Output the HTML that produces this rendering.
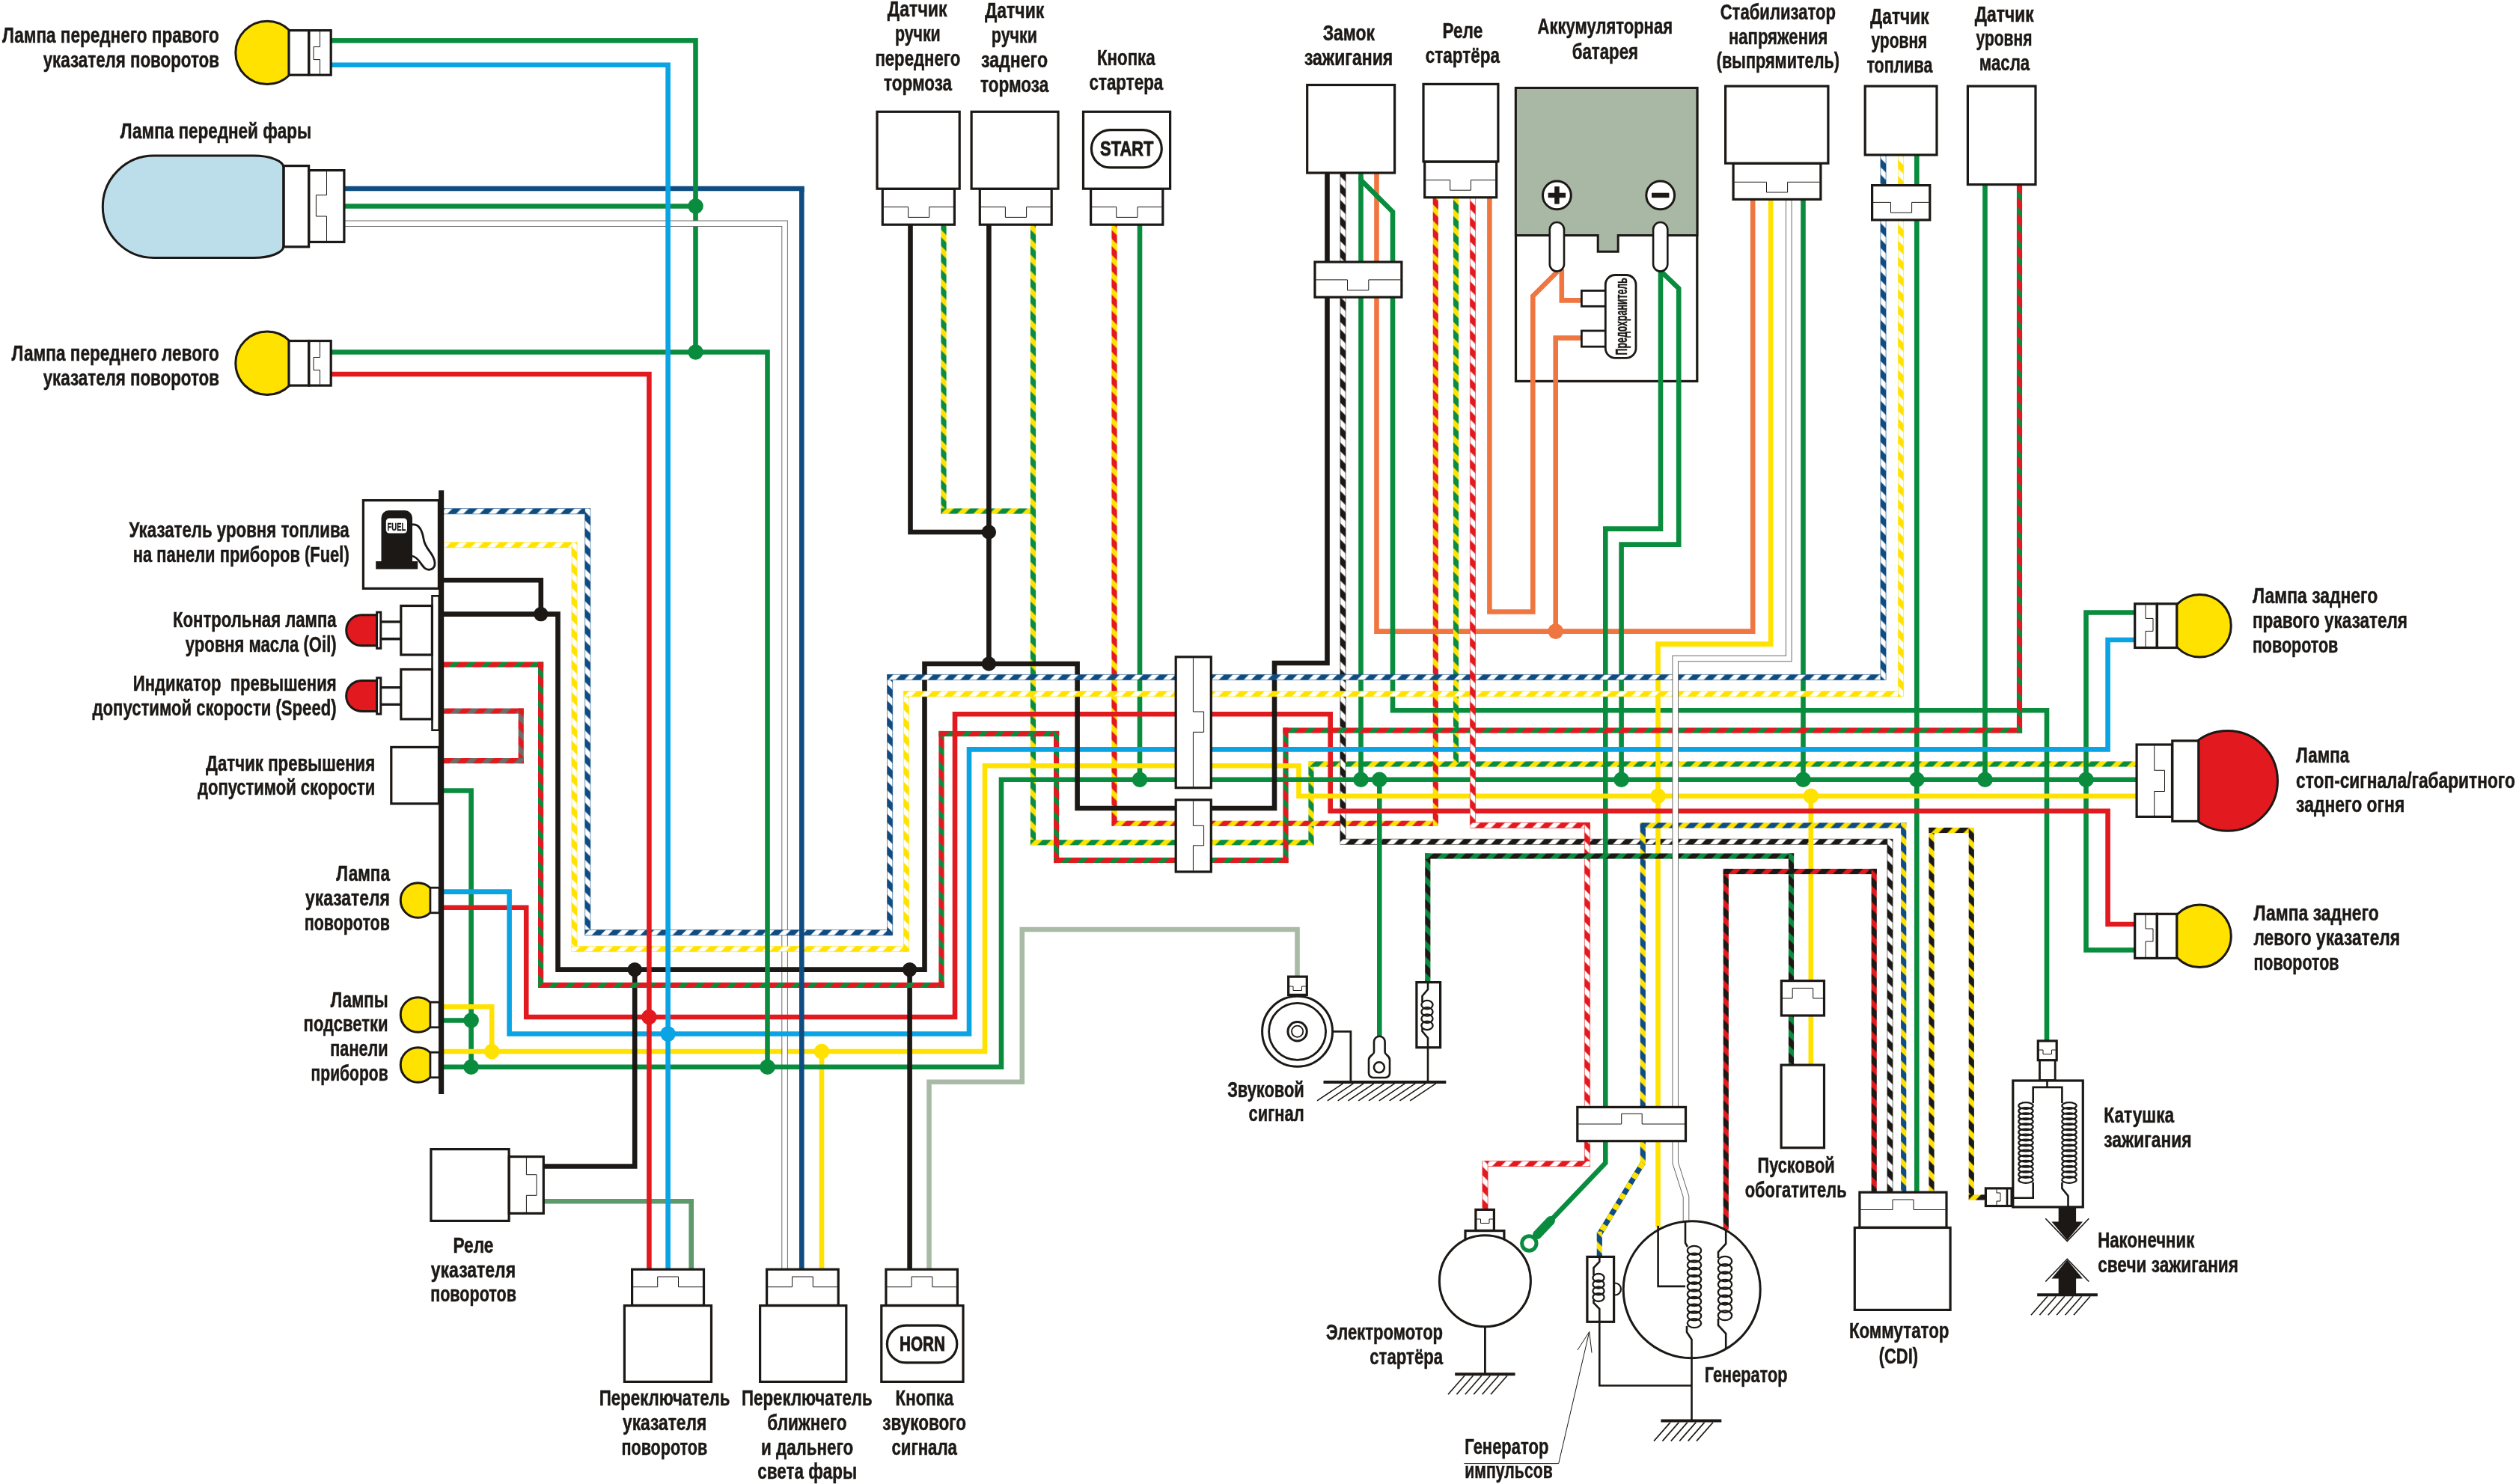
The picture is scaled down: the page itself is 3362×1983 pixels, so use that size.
<!DOCTYPE html>
<html><head><meta charset="utf-8"><title>Wiring diagram</title>
<style>html,body{margin:0;padding:0;background:#fff}svg{display:block;will-change:transform}text{font-family:"Liberation Sans",sans-serif;font-weight:bold}</style></head><body>
<svg width="3362" height="1983" viewBox="0 0 3362 1983">
<rect width="3362" height="1983" fill="#fff"/>
<defs><pattern id="p0" width="21.6" height="21.6" patternUnits="userSpaceOnUse"><rect width="21.6" height="21.6" fill="#0A8C3E"/><polygon points="21.6,0 11.7,0 21.6,9.9" fill="#FFE200"/><polygon points="0,0 0,9.9 11.7,21.6 21.6,21.6" fill="#FFE200"/></pattern><pattern id="p1" width="21.6" height="21.6" patternUnits="userSpaceOnUse"><rect width="21.6" height="21.6" fill="#0A8C3E"/><polygon points="0,0 9.9,0 0,9.9" fill="#FFE200"/><polygon points="21.6,0 21.6,9.9 9.9,21.6 0,21.6" fill="#FFE200"/></pattern><pattern id="p2" width="21.6" height="21.6" patternUnits="userSpaceOnUse"><rect width="21.6" height="21.6" fill="#E2191E"/><polygon points="21.6,0 11.7,0 21.6,9.9" fill="#FFE200"/><polygon points="0,0 0,9.9 11.7,21.6 21.6,21.6" fill="#FFE200"/></pattern><pattern id="p3" width="21.6" height="21.6" patternUnits="userSpaceOnUse"><rect width="21.6" height="21.6" fill="#E2191E"/><polygon points="0,0 9.9,0 0,9.9" fill="#FFE200"/><polygon points="21.6,0 21.6,9.9 9.9,21.6 0,21.6" fill="#FFE200"/></pattern><pattern id="p4" width="21.6" height="21.6" patternUnits="userSpaceOnUse"><rect width="21.6" height="21.6" fill="#1B1815"/><polygon points="21.6,0 11.7,0 21.6,9.9" fill="#FFFFFF"/><polygon points="0,0 0,9.9 11.7,21.6 21.6,21.6" fill="#FFFFFF"/></pattern><pattern id="p5" width="21.6" height="21.6" patternUnits="userSpaceOnUse"><rect width="21.6" height="21.6" fill="#1B1815"/><polygon points="0,0 9.9,0 0,9.9" fill="#FFFFFF"/><polygon points="21.6,0 21.6,9.9 9.9,21.6 0,21.6" fill="#FFFFFF"/></pattern><pattern id="p6" width="21.6" height="21.6" patternUnits="userSpaceOnUse"><rect width="21.6" height="21.6" fill="#0F4C81"/><polygon points="21.6,0 11.7,0 21.6,9.9" fill="#FFFFFF"/><polygon points="0,0 0,9.9 11.7,21.6 21.6,21.6" fill="#FFFFFF"/></pattern><pattern id="p7" width="21.6" height="21.6" patternUnits="userSpaceOnUse"><rect width="21.6" height="21.6" fill="#FFE200"/><polygon points="21.6,0 11.7,0 21.6,9.9" fill="#FFFFFF"/><polygon points="0,0 0,9.9 11.7,21.6 21.6,21.6" fill="#FFFFFF"/></pattern><pattern id="p8" width="21.6" height="21.6" patternUnits="userSpaceOnUse"><rect width="21.6" height="21.6" fill="#E2191E"/><polygon points="0,0 9.9,0 0,9.9" fill="#6E6E69"/><polygon points="21.6,0 21.6,9.9 9.9,21.6 0,21.6" fill="#6E6E69"/></pattern><pattern id="p9" width="21.6" height="21.6" patternUnits="userSpaceOnUse"><rect width="21.6" height="21.6" fill="#E2191E"/><polygon points="21.6,0 11.7,0 21.6,9.9" fill="#6E6E69"/><polygon points="0,0 0,9.9 11.7,21.6 21.6,21.6" fill="#6E6E69"/></pattern><pattern id="p10" width="21.6" height="21.6" patternUnits="userSpaceOnUse"><rect width="21.6" height="21.6" fill="#E2191E"/><polygon points="21.6,0 12.7,0 21.6,8.9" fill="#0A8C3E"/><polygon points="0,0 0,8.9 12.7,21.6 21.6,21.6" fill="#0A8C3E"/></pattern><pattern id="p11" width="21.6" height="21.6" patternUnits="userSpaceOnUse"><rect width="21.6" height="21.6" fill="#E2191E"/><polygon points="0,0 8.9,0 0,8.9" fill="#0A8C3E"/><polygon points="21.6,0 21.6,8.9 8.9,21.6 0,21.6" fill="#0A8C3E"/></pattern><pattern id="p12" width="21.6" height="21.6" patternUnits="userSpaceOnUse"><rect width="21.6" height="21.6" fill="#0F4C81"/><polygon points="0,0 9.9,0 0,9.9" fill="#FFFFFF"/><polygon points="21.6,0 21.6,9.9 9.9,21.6 0,21.6" fill="#FFFFFF"/></pattern><pattern id="p13" width="21.6" height="21.6" patternUnits="userSpaceOnUse"><rect width="21.6" height="21.6" fill="#FFE200"/><polygon points="0,0 9.9,0 0,9.9" fill="#FFFFFF"/><polygon points="21.6,0 21.6,9.9 9.9,21.6 0,21.6" fill="#FFFFFF"/></pattern><pattern id="p14" width="21.6" height="21.6" patternUnits="userSpaceOnUse"><rect width="21.6" height="21.6" fill="#E2191E"/><polygon points="21.6,0 11.7,0 21.6,9.9" fill="#FFFFFF"/><polygon points="0,0 0,9.9 11.7,21.6 21.6,21.6" fill="#FFFFFF"/></pattern><pattern id="p15" width="21.6" height="21.6" patternUnits="userSpaceOnUse"><rect width="21.6" height="21.6" fill="#E2191E"/><polygon points="0,0 9.9,0 0,9.9" fill="#FFFFFF"/><polygon points="21.6,0 21.6,9.9 9.9,21.6 0,21.6" fill="#FFFFFF"/></pattern><pattern id="p16" width="21.6" height="21.6" patternUnits="userSpaceOnUse"><rect width="21.6" height="21.6" fill="#0F4C81"/><polygon points="21.6,0 11.7,0 21.6,9.9" fill="#FFE200"/><polygon points="0,0 0,9.9 11.7,21.6 21.6,21.6" fill="#FFE200"/></pattern><pattern id="p17" width="21.6" height="21.6" patternUnits="userSpaceOnUse"><rect width="21.6" height="21.6" fill="#0F4C81"/><polygon points="0,0 9.9,0 0,9.9" fill="#FFE200"/><polygon points="21.6,0 21.6,9.9 9.9,21.6 0,21.6" fill="#FFE200"/></pattern><pattern id="p18" width="21.6" height="21.6" patternUnits="userSpaceOnUse"><rect width="21.6" height="21.6" fill="#1B1815"/><polygon points="21.6,0 11.7,0 21.6,9.9" fill="#0A8C3E"/><polygon points="0,0 0,9.9 11.7,21.6 21.6,21.6" fill="#0A8C3E"/></pattern><pattern id="p19" width="21.6" height="21.6" patternUnits="userSpaceOnUse"><rect width="21.6" height="21.6" fill="#1B1815"/><polygon points="0,0 9.9,0 0,9.9" fill="#0A8C3E"/><polygon points="21.6,0 21.6,9.9 9.9,21.6 0,21.6" fill="#0A8C3E"/></pattern><pattern id="p20" width="21.6" height="21.6" patternUnits="userSpaceOnUse"><rect width="21.6" height="21.6" fill="#1B1815"/><polygon points="21.6,0 11.7,0 21.6,9.9" fill="#E2191E"/><polygon points="0,0 0,9.9 11.7,21.6 21.6,21.6" fill="#E2191E"/></pattern><pattern id="p21" width="21.6" height="21.6" patternUnits="userSpaceOnUse"><rect width="21.6" height="21.6" fill="#1B1815"/><polygon points="0,0 9.9,0 0,9.9" fill="#E2191E"/><polygon points="21.6,0 21.6,9.9 9.9,21.6 0,21.6" fill="#E2191E"/></pattern><pattern id="p22" width="21.6" height="21.6" patternUnits="userSpaceOnUse"><rect width="21.6" height="21.6" fill="#1B1815"/><polygon points="21.6,0 11.7,0 21.6,9.9" fill="#FFE200"/><polygon points="0,0 0,9.9 11.7,21.6 21.6,21.6" fill="#FFE200"/></pattern><pattern id="p23" width="21.6" height="21.6" patternUnits="userSpaceOnUse"><rect width="21.6" height="21.6" fill="#1B1815"/><polygon points="0,0 9.9,0 0,9.9" fill="#FFE200"/><polygon points="21.6,0 21.6,9.9 9.9,21.6 0,21.6" fill="#FFE200"/></pattern></defs>
<rect x="2025.5" y="117.5" width="242.3" height="391.9" fill="#fff" stroke="#1B1815" stroke-width="3.2"/>
<path d="M2025.4 117.4 H2267.9 V314.5 H2162.2 V336.2 H2135.2 V314.5 H2025.4 Z" fill="#A8B8A4" stroke="#1B1815" stroke-width="3" stroke-linejoin="miter"/>
<path d="M1216.5 298 L1216.5 711 L1321.4 711" fill="none" stroke="#1B1815" stroke-width="6.6" stroke-linejoin="miter"/>
<rect x="1257.4" y="298" width="7.2" height="388.6" fill="url(#p0)"/>
<rect x="1257.4" y="679.4" width="123.1" height="7.2" fill="url(#p1)"/>
<path d="M1321.4 298 L1321.4 887" fill="none" stroke="#1B1815" stroke-width="6.6" stroke-linejoin="miter"/>
<rect x="1376.9" y="298" width="7.2" height="831.4" fill="url(#p0)"/>
<rect x="1376.9" y="1122.2" width="195.1" height="7.2" fill="url(#p1)"/>
<rect x="1617" y="1122.2" width="138.6" height="7.2" fill="url(#p1)"/>
<rect x="1748.4" y="1017.4" width="7.2" height="112" fill="url(#p0)"/>
<rect x="1748.4" y="1017.4" width="1107.6" height="7.2" fill="url(#p1)"/>
<rect x="1485.4" y="298" width="7.2" height="805.9" fill="url(#p2)"/>
<rect x="1485.4" y="1096.7" width="86.6" height="7.2" fill="url(#p3)"/>
<rect x="1617" y="1096.7" width="304.9" height="7.2" fill="url(#p3)"/>
<rect x="1914.7" y="262" width="7.2" height="841.9" fill="url(#p2)"/>
<path d="M1523 298 L1523 1041.8" fill="none" stroke="#0A8C3E" stroke-width="6.6" stroke-linejoin="miter"/>
<rect x="1790.9" y="230" width="7.2" height="898.4" fill="url(#p4)"/>
<path d="M1790.9 230 V1128.4 M1798.1 230 V1128.4" stroke="#1B1815" stroke-width="0.8" stroke-opacity="0.75" fill="none"/>
<rect x="1790.9" y="1121.2" width="738.2" height="7.2" fill="url(#p5)"/>
<path d="M1790.9 1121.2 H2529.1 M1790.9 1128.4 H2529.1" stroke="#1B1815" stroke-width="0.8" stroke-opacity="0.75" fill="none"/>
<rect x="2521.9" y="1121.2" width="7.2" height="471.8" fill="url(#p4)"/>
<path d="M2521.9 1121.2 V1593 M2529.1 1121.2 V1593" stroke="#1B1815" stroke-width="0.8" stroke-opacity="0.75" fill="none"/>
<path d="M1818.5 230 L1818.5 1041.8" fill="none" stroke="#0A8C3E" stroke-width="6.6" stroke-linejoin="miter"/>
<path d="M1839.5 230 L1839.5 843.6 L2342.2 843.6 L2342.2 264" fill="none" stroke="#F07641" stroke-width="6.6" stroke-linejoin="miter"/>
<path d="M1818.5 236 L1818.5 240.5 L1861 283 L1861 949.3 L2735 949.3 L2735 1391" fill="none" stroke="#0A8C3E" stroke-width="6.6" stroke-linejoin="miter"/>
<rect x="1941.9" y="262" width="7.2" height="759" fill="url(#p0)"/>
<path d="M1990.4 262 L1990.4 817.5 L2048.3 817.5 L2048.3 395.7 L2081 363" fill="none" stroke="#F07641" stroke-width="6.6" stroke-linejoin="miter"/>
<path d="M2086.8 360 L2086.8 401.4 L2113 401.4" fill="none" stroke="#F07641" stroke-width="6.6" stroke-linejoin="miter"/>
<path d="M2113 451.6 L2078.7 451.6 L2078.7 843.6" fill="none" stroke="#F07641" stroke-width="6.6" stroke-linejoin="miter"/>
<path d="M2219 360 L2219 706.6 L2145.3 706.6 L2145.3 1480" fill="none" stroke="#0A8C3E" stroke-width="6.6" stroke-linejoin="miter"/>
<path d="M2145.3 1524 L2145.3 1554 L2050 1654" fill="none" stroke="#0A8C3E" stroke-width="6.6" stroke-linejoin="miter"/>
<path d="M2219 362 L2243.2 385.5 L2243.2 727.6 L2166.6 727.6 L2166.6 1041.8" fill="none" stroke="#0A8C3E" stroke-width="6.6" stroke-linejoin="miter"/>
<path d="M2366.2 264 L2366.2 860.6 L2215.5 860.6 L2215.5 1480" fill="none" stroke="#FFE200" stroke-width="6.6" stroke-linejoin="miter"/>
<path d="M2215.5 1524 L2215.5 1640" fill="none" stroke="#FFE200" stroke-width="6.6" stroke-linejoin="miter"/>
<path d="M2409.5 264 L2409.5 1041.8" fill="none" stroke="#0A8C3E" stroke-width="6.6" stroke-linejoin="miter"/>
<rect x="2512.9" y="205" width="7.2" height="45" fill="url(#p6)"/>
<path d="M2512.9 205 V250 M2520.1 205 V250" stroke="#0F4C81" stroke-width="0.8" stroke-opacity="0.75" fill="none"/>
<rect x="2536.4" y="205" width="7.2" height="45" fill="url(#p7)"/>
<path d="M2536.4 205 V250 M2543.6 205 V250" stroke="#FFE200" stroke-width="0.8" stroke-opacity="0.75" fill="none"/>
<path d="M2561.3 205 L2561.3 1593" fill="none" stroke="#0A8C3E" stroke-width="6.6" stroke-linejoin="miter"/>
<path d="M2652.5 245 L2652.5 1041.8" fill="none" stroke="#0A8C3E" stroke-width="6.6" stroke-linejoin="miter"/>
<path d="M2853 818.5 L2787.5 818.5 L2787.5 1269.5 L2853 1269.5" fill="none" stroke="#0A8C3E" stroke-width="6.6" stroke-linejoin="miter"/>
<path d="M1843.3 1041.8 L1843.3 1385" fill="none" stroke="#0A8C3E" stroke-width="6.6" stroke-linejoin="miter"/>
<path d="M1733.5 1305 L1733.5 1242 L1365.8 1242 L1365.8 1445.8 L1241.5 1445.8 L1241.5 1696" fill="none" stroke="#A9BBA7" stroke-width="6.6" stroke-linejoin="miter"/>
<path d="M726 1605.3 L923.7 1605.3 L923.7 1696" fill="none" stroke="#5D9A6B" stroke-width="6.6" stroke-linejoin="miter"/>
<path d="M1098 1405 L1098 1696" fill="none" stroke="#FFE200" stroke-width="6.6" stroke-linejoin="miter"/>
<path d="M2419.8 1063.8 L2419.8 1311" fill="none" stroke="#FFE200" stroke-width="6.6" stroke-linejoin="miter"/>
<path d="M2419.8 1356 L2419.8 1423" fill="none" stroke="#FFE200" stroke-width="6.6" stroke-linejoin="miter"/>
<rect x="592" y="946.5" width="107.8" height="7.2" fill="url(#p8)"/>
<rect x="692.6" y="946.5" width="7.2" height="73.7" fill="url(#p9)"/>
<rect x="592" y="1013" width="107.8" height="7.2" fill="url(#p8)"/>
<path d="M592 1056.5 L629.6 1056.5 L629.6 1425.7" fill="none" stroke="#0A8C3E" stroke-width="6.6" stroke-linejoin="miter"/>
<path d="M592 1345.3 L657.2 1345.3 L657.2 1405" fill="none" stroke="#FFE200" stroke-width="6.6" stroke-linejoin="miter"/>
<path d="M592 1363.5 L629.6 1363.5" fill="none" stroke="#0A8C3E" stroke-width="6.6" stroke-linejoin="miter"/>
<path d="M460 252 L1071.3 252 L1071.3 257" fill="none" stroke="#0F4C81" stroke-width="6.6" stroke-linejoin="miter"/>
<path d="M442 54.3 L929.5 54.3 L929.5 470.5" fill="none" stroke="#0A8C3E" stroke-width="6.6" stroke-linejoin="miter"/>
<path d="M460 275.5 L929.5 275.5" fill="none" stroke="#0A8C3E" stroke-width="6.6" stroke-linejoin="miter"/>
<path d="M460 298.8 L1048.6 298.8 L1048.6 1696" fill="none" stroke="#6B6B69" stroke-width="8.6" stroke-linejoin="miter"/>
<path d="M460 298.8 L1048.6 298.8 L1048.6 1696" fill="none" stroke="#fff" stroke-width="6.6" stroke-linejoin="miter"/>
<rect x="1254.4" y="976.9" width="7.2" height="343.1" fill="url(#p10)"/>
<rect x="1254.4" y="976.9" width="160.8" height="7.2" fill="url(#p11)"/>
<rect x="1408" y="976.9" width="7.2" height="176.2" fill="url(#p10)"/>
<rect x="1408" y="1145.9" width="164" height="7.2" fill="url(#p11)"/>
<rect x="1617" y="1145.9" width="104.6" height="7.2" fill="url(#p11)"/>
<rect x="1714.4" y="972.4" width="7.2" height="180.7" fill="url(#p10)"/>
<rect x="1714.4" y="972.4" width="987.7" height="7.2" fill="url(#p11)"/>
<rect x="2694.9" y="245" width="7.2" height="734.6" fill="url(#p10)"/>
<path d="M592 1212.8 L703.2 1212.8 L703.2 1359 L1276 1359 L1276 954.2 L1572 954.2" fill="none" stroke="#E2191E" stroke-width="6.6" stroke-linejoin="miter"/>
<path d="M1617 954.2 L1777.7 954.2 L1777.7 1083.8 L2816.6 1083.8 L2816.6 1235 L2853 1235" fill="none" stroke="#E2191E" stroke-width="6.6" stroke-linejoin="miter"/>
<path d="M592 1191.6 L680.6 1191.6 L680.6 1381.5 L1295 1381.5 L1295 1001.4 L1572 1001.4" fill="none" stroke="#0AA3E4" stroke-width="6.6" stroke-linejoin="miter"/>
<path d="M1617 1001.4 L2816.6 1001.4 L2816.6 855 L2853 855" fill="none" stroke="#0AA3E4" stroke-width="6.6" stroke-linejoin="miter"/>
<path d="M592 1405 L1316 1405 L1316 1023.2 L1572 1023.2" fill="none" stroke="#FFE200" stroke-width="6.6" stroke-linejoin="miter"/>
<path d="M1617 1023.2 L1735.5 1023.2 L1735.5 1063.8 L2856 1063.8" fill="none" stroke="#FFE200" stroke-width="6.6" stroke-linejoin="miter"/>
<path d="M592 1425.7 L1338 1425.7 L1338 1041.8 L1572 1041.8" fill="none" stroke="#0A8C3E" stroke-width="6.6" stroke-linejoin="miter"/>
<path d="M1617 1041.8 L2856 1041.8" fill="none" stroke="#0A8C3E" stroke-width="6.6" stroke-linejoin="miter"/>
<path d="M1215.6 1295.6 L1215.6 1696" fill="none" stroke="#1B1815" stroke-width="6.6" stroke-linejoin="miter"/>
<path d="M848.2 1295.6 L848.2 1558.5 L726 1558.5" fill="none" stroke="#1B1815" stroke-width="6.6" stroke-linejoin="miter"/>
<rect x="592" y="884.4" width="134.2" height="7.2" fill="url(#p11)"/>
<rect x="719" y="884.4" width="7.2" height="435.6" fill="url(#p10)"/>
<rect x="719" y="1312.8" width="542.6" height="7.2" fill="url(#p11)"/>
<rect x="1254.4" y="1312" width="7.2" height="8" fill="url(#p10)"/>
<rect x="1045.3" y="1401" width="6.6" height="8" fill="#fff"/><path d="M1044.8 1401 V1409 M1052.4 1401 V1409" stroke="#6B6B69" stroke-width="1" fill="none"/>
<path d="M592 775.3 L722.8 775.3 L722.8 820.6" fill="none" stroke="#1B1815" stroke-width="6.6" stroke-linejoin="miter"/>
<path d="M592 820.6 L745.5 820.6 L745.5 1295.6 L1235.5 1295.6 L1235.5 887 L1439.6 887 L1439.6 1080 L1572 1080" fill="none" stroke="#1B1815" stroke-width="6.6" stroke-linejoin="miter"/>
<path d="M1617 1080 L1703 1080 L1703 886 L1773.5 886 L1773.5 230" fill="none" stroke="#1B1815" stroke-width="6.6" stroke-linejoin="miter"/>
<rect x="592" y="679.6" width="196.9" height="7.2" fill="url(#p12)"/>
<path d="M592 679.6 H788.9 M592 686.8 H788.9" stroke="#0F4C81" stroke-width="0.8" stroke-opacity="0.75" fill="none"/>
<rect x="781.7" y="679.6" width="7.2" height="570.2" fill="url(#p6)"/>
<path d="M781.7 679.6 V1249.8 M788.9 679.6 V1249.8" stroke="#0F4C81" stroke-width="0.8" stroke-opacity="0.75" fill="none"/>
<rect x="781.7" y="1242.6" width="411" height="7.2" fill="url(#p12)"/>
<path d="M781.7 1242.6 H1192.7 M781.7 1249.8 H1192.7" stroke="#0F4C81" stroke-width="0.8" stroke-opacity="0.75" fill="none"/>
<rect x="1185.5" y="901.4" width="7.2" height="348.4" fill="url(#p6)"/>
<path d="M1185.5 901.4 V1249.8 M1192.7 901.4 V1249.8" stroke="#0F4C81" stroke-width="0.8" stroke-opacity="0.75" fill="none"/>
<rect x="1185.5" y="901.4" width="386.5" height="7.2" fill="url(#p12)"/>
<path d="M1185.5 901.4 H1572 M1185.5 908.6 H1572" stroke="#0F4C81" stroke-width="0.8" stroke-opacity="0.75" fill="none"/>
<rect x="1617" y="901.4" width="903.1" height="7.2" fill="url(#p12)"/>
<path d="M1617 901.4 H2520.1 M1617 908.6 H2520.1" stroke="#0F4C81" stroke-width="0.8" stroke-opacity="0.75" fill="none"/>
<rect x="2512.9" y="292" width="7.2" height="616.6" fill="url(#p6)"/>
<path d="M2512.9 292 V908.6 M2520.1 292 V908.6" stroke="#0F4C81" stroke-width="0.8" stroke-opacity="0.75" fill="none"/>
<rect x="592" y="724.6" width="179.1" height="7.2" fill="url(#p13)"/>
<path d="M592 724.6 H771.1 M592 731.8 H771.1" stroke="#FFE200" stroke-width="0.8" stroke-opacity="0.75" fill="none"/>
<rect x="763.9" y="724.6" width="7.2" height="547" fill="url(#p7)"/>
<path d="M763.9 724.6 V1271.6 M771.1 724.6 V1271.6" stroke="#FFE200" stroke-width="0.8" stroke-opacity="0.75" fill="none"/>
<rect x="763.9" y="1264.4" width="450.7" height="7.2" fill="url(#p13)"/>
<path d="M763.9 1264.4 H1214.6 M763.9 1271.6 H1214.6" stroke="#FFE200" stroke-width="0.8" stroke-opacity="0.75" fill="none"/>
<rect x="1207.4" y="923.6" width="7.2" height="348" fill="url(#p7)"/>
<path d="M1207.4 923.6 V1271.6 M1214.6 923.6 V1271.6" stroke="#FFE200" stroke-width="0.8" stroke-opacity="0.75" fill="none"/>
<rect x="1207.4" y="923.6" width="364.6" height="7.2" fill="url(#p13)"/>
<path d="M1207.4 923.6 H1572 M1207.4 930.8 H1572" stroke="#FFE200" stroke-width="0.8" stroke-opacity="0.75" fill="none"/>
<rect x="1617" y="923.6" width="926.6" height="7.2" fill="url(#p13)"/>
<path d="M1617 923.6 H2543.6 M1617 930.8 H2543.6" stroke="#FFE200" stroke-width="0.8" stroke-opacity="0.75" fill="none"/>
<rect x="2536.4" y="292" width="7.2" height="638.8" fill="url(#p7)"/>
<path d="M2536.4 292 V930.8 M2543.6 292 V930.8" stroke="#FFE200" stroke-width="0.8" stroke-opacity="0.75" fill="none"/>
<rect x="1964.4" y="262" width="7.2" height="844.4" fill="url(#p14)"/>
<path d="M1964.4 262 V1106.4 M1971.6 262 V1106.4" stroke="#E2191E" stroke-width="0.8" stroke-opacity="0.75" fill="none"/>
<rect x="1964.4" y="1099.2" width="160.2" height="7.2" fill="url(#p15)"/>
<path d="M1964.4 1099.2 H2124.6 M1964.4 1106.4 H2124.6" stroke="#E2191E" stroke-width="0.8" stroke-opacity="0.75" fill="none"/>
<rect x="2117.4" y="1099.2" width="7.2" height="380.8" fill="url(#p14)"/>
<path d="M2117.4 1099.2 V1480 M2124.6 1099.2 V1480" stroke="#E2191E" stroke-width="0.8" stroke-opacity="0.75" fill="none"/>
<rect x="2117.4" y="1524" width="7.2" height="34.6" fill="url(#p14)"/>
<path d="M2117.4 1524 V1558.6 M2124.6 1524 V1558.6" stroke="#E2191E" stroke-width="0.8" stroke-opacity="0.75" fill="none"/>
<rect x="1980.9" y="1551.4" width="143.7" height="7.2" fill="url(#p15)"/>
<path d="M1980.9 1551.4 H2124.6 M1980.9 1558.6 H2124.6" stroke="#E2191E" stroke-width="0.8" stroke-opacity="0.75" fill="none"/>
<rect x="1980.9" y="1551.4" width="7.2" height="64.6" fill="url(#p14)"/>
<path d="M1980.9 1551.4 V1616 M1988.1 1551.4 V1616" stroke="#E2191E" stroke-width="0.8" stroke-opacity="0.75" fill="none"/>
<rect x="2191.7" y="1099.4" width="7.2" height="380.6" fill="url(#p16)"/>
<rect x="2191.7" y="1099.4" width="355.6" height="7.2" fill="url(#p17)"/>
<rect x="2540.1" y="1099.4" width="7.2" height="493.6" fill="url(#p16)"/>
<rect x="2191.7" y="1524" width="7.2" height="33.4" fill="url(#p16)"/>
<line x1="2195.3" y1="1553.8" x2="2137.3" y2="1649.2" stroke="#0F4C81" stroke-width="7.2"/>
<line x1="2195.3" y1="1553.8" x2="2137.3" y2="1649.2" stroke="#FFE200" stroke-width="7.2" stroke-dasharray="8.1 8.1"/>
<rect x="2133.7" y="1645.6" width="7.2" height="34.4" fill="url(#p16)"/>
<rect x="1904.2" y="1140.4" width="7.2" height="172.6" fill="url(#p18)"/>
<rect x="1904.2" y="1140.4" width="492.9" height="7.2" fill="url(#p19)"/>
<rect x="2389.9" y="1140.4" width="7.2" height="170.6" fill="url(#p18)"/>
<rect x="2389.9" y="1356" width="7.2" height="67" fill="url(#p18)"/>
<rect x="2302.7" y="1160.9" width="7.2" height="482.1" fill="url(#p20)"/>
<rect x="2302.7" y="1160.9" width="205.1" height="7.2" fill="url(#p21)"/>
<rect x="2500.6" y="1160.9" width="7.2" height="432.1" fill="url(#p20)"/>
<rect x="2577.4" y="1105.9" width="7.2" height="487.1" fill="url(#p22)"/>
<rect x="2577.4" y="1105.9" width="60.5" height="7.2" fill="url(#p23)"/>
<rect x="2630.7" y="1105.9" width="7.2" height="497.7" fill="url(#p22)"/>
<rect x="2630.7" y="1596.4" width="22.3" height="7.2" fill="url(#p23)"/>
<path d="M442 470.5 L1025.5 470.5 L1025.5 1425.7" fill="none" stroke="#0A8C3E" stroke-width="6.6" stroke-linejoin="miter"/>
<path d="M442 500 L867.4 500 L867.4 1696" fill="none" stroke="#E2191E" stroke-width="6.6" stroke-linejoin="miter"/>
<path d="M1071.3 249 L1071.3 1696" fill="none" stroke="#0F4C81" stroke-width="6.6" stroke-linejoin="miter"/>
<path d="M442 86.7 L892.6 86.7 L892.6 1696" fill="none" stroke="#0AA3E4" stroke-width="6.6" stroke-linejoin="miter"/>
<path d="M2390.3 264 L2390.3 880 L2238.7 880 L2238.7 1480" fill="none" stroke="#6B6B69" stroke-width="8.6" stroke-linejoin="miter"/>
<path d="M2390.3 264 L2390.3 880 L2238.7 880 L2238.7 1480" fill="none" stroke="#fff" stroke-width="6.6" stroke-linejoin="miter"/>
<path d="M2238.7 1524 L2238.7 1553.8 L2253 1599 L2253 1632" fill="none" stroke="#6B6B69" stroke-width="8.6" stroke-linejoin="miter"/>
<path d="M2238.7 1524 L2238.7 1553.8 L2253 1599 L2253 1632" fill="none" stroke="#fff" stroke-width="6.6" stroke-linejoin="miter"/>
<circle cx="929.5" cy="275.5" r="10.3" fill="#0A8C3E"/>
<circle cx="929.5" cy="470.5" r="10.3" fill="#0A8C3E"/>
<circle cx="722.8" cy="820.6" r="9.7" fill="#1B1815"/>
<circle cx="848.2" cy="1295.6" r="9.7" fill="#1B1815"/>
<circle cx="1215.6" cy="1295.6" r="9.7" fill="#1B1815"/>
<circle cx="1321.4" cy="711" r="9.7" fill="#1B1815"/>
<circle cx="1321.4" cy="887" r="9.7" fill="#1B1815"/>
<circle cx="629.6" cy="1363.5" r="10.3" fill="#0A8C3E"/>
<circle cx="629.6" cy="1425.7" r="10.3" fill="#0A8C3E"/>
<circle cx="1025.5" cy="1425.7" r="10.3" fill="#0A8C3E"/>
<circle cx="657.2" cy="1405" r="10.3" fill="#FFE200"/>
<circle cx="1098" cy="1405" r="10.3" fill="#FFE200"/>
<circle cx="867.4" cy="1359" r="10.3" fill="#E2191E"/>
<circle cx="892.6" cy="1381.6" r="10.3" fill="#0AA3E4"/>
<circle cx="1523" cy="1041.8" r="10.3" fill="#0A8C3E"/>
<circle cx="1818.5" cy="1041.8" r="10.3" fill="#0A8C3E"/>
<circle cx="1843.3" cy="1041.8" r="10.3" fill="#0A8C3E"/>
<circle cx="2166.6" cy="1041.8" r="10.3" fill="#0A8C3E"/>
<circle cx="2409.5" cy="1041.8" r="10.3" fill="#0A8C3E"/>
<circle cx="2561.3" cy="1041.8" r="10.3" fill="#0A8C3E"/>
<circle cx="2652.5" cy="1041.8" r="10.3" fill="#0A8C3E"/>
<circle cx="2787.5" cy="1041.8" r="10.3" fill="#0A8C3E"/>
<circle cx="2215.5" cy="1063.8" r="10.3" fill="#FFE200"/>
<circle cx="2419.8" cy="1063.8" r="10.3" fill="#FFE200"/>
<circle cx="2078.7" cy="843.6" r="10.3" fill="#F07641"/>
<g>
<circle cx="357" cy="70.4" r="42.2" fill="#FFE200" stroke="#1B1815" stroke-width="3"/>
<rect x="386" y="40.6" width="26.6" height="59.6" fill="#fff" stroke="#1B1815" stroke-width="3.2"/>
<rect x="412.9" y="40.6" width="29.3" height="59.6" fill="#fff" stroke="#1B1815" stroke-width="3.2"/>
<path d="M427.5 42 L427.5 62.6 L419 62.6 L419 79.6 L427.5 79.6 L427.5 98.8" fill="none" stroke="#1B1815" stroke-width="1"/>
<circle cx="357" cy="485.3" r="42.2" fill="#FFE200" stroke="#1B1815" stroke-width="3"/>
<rect x="386" y="455.5" width="26.6" height="59.6" fill="#fff" stroke="#1B1815" stroke-width="3.2"/>
<rect x="412.9" y="455.5" width="29.3" height="59.6" fill="#fff" stroke="#1B1815" stroke-width="3.2"/>
<path d="M427.5 456.9 L427.5 477.5 L419 477.5 L419 494.5 L427.5 494.5 L427.5 513.7" fill="none" stroke="#1B1815" stroke-width="1"/>
<path d="M338.8 208.1 H205.5 A68.2 68.2 0 0 0 205.5 344.5 H338.8 A40 15.4 0 0 0 378.8 329.1 V223.5 A40 15.4 0 0 0 338.8 208.1 Z" fill="#BCDDEA" stroke="#1B1815" stroke-width="3"/>
<rect x="379.2" y="221.6" width="33.4" height="108.2" fill="#fff" stroke="#1B1815" stroke-width="3.2"/>
<rect x="412.9" y="227.6" width="47" height="95.8" fill="#fff" stroke="#1B1815" stroke-width="3.2"/>
<path d="M436.5 229 L436.5 260.7 L422.4 260.7 L422.4 289 L436.5 289 L436.5 322" fill="none" stroke="#1B1815" stroke-width="1"/>
<circle cx="2939.5" cy="836.2" r="41.8" fill="#FFE200" stroke="#1B1815" stroke-width="3"/>
<rect x="2882.4" y="806.8" width="26.4" height="58.7" fill="#fff" stroke="#1B1815" stroke-width="3.2"/>
<rect x="2852.7" y="806.8" width="29.4" height="58.7" fill="#fff" stroke="#1B1815" stroke-width="3.2"/>
<path d="M2867 808.2 L2867 826.4 L2877 826.4 L2877 843.4 L2867 843.4 L2867 864.1" fill="none" stroke="#1B1815" stroke-width="1"/>
<circle cx="2939.5" cy="1250.8" r="41.8" fill="#FFE200" stroke="#1B1815" stroke-width="3"/>
<rect x="2882.4" y="1221.3" width="26.4" height="59.1" fill="#fff" stroke="#1B1815" stroke-width="3.2"/>
<rect x="2852.7" y="1221.3" width="29.4" height="59.1" fill="#fff" stroke="#1B1815" stroke-width="3.2"/>
<path d="M2867 1222.7 L2867 1241 L2877 1241 L2877 1258 L2867 1258 L2867 1279" fill="none" stroke="#1B1815" stroke-width="1"/>
<circle cx="2976.6" cy="1043.4" r="66.9" fill="#E2191E" stroke="#1B1815" stroke-width="3"/>
<rect x="2902.8" y="989.9" width="35" height="107.5" fill="#fff" stroke="#1B1815" stroke-width="3.2"/>
<rect x="2855.1" y="995" width="47.4" height="96.4" fill="#fff" stroke="#1B1815" stroke-width="3.2"/>
<path d="M2878.7 996.4 L2878.7 1029.3 L2892.5 1029.3 L2892.5 1057.5 L2878.7 1057.5 L2878.7 1090" fill="none" stroke="#1B1815" stroke-width="1"/>
<rect x="1179.3" y="252.4" width="96.1" height="47.8" fill="#fff" stroke="#1B1815" stroke-width="3.2"/>
<path d="M1180.7 276.6 L1213.6 276.6 L1213.6 290.4 L1241.7 290.4 L1241.7 276.6 L1274 276.6" fill="none" stroke="#1B1815" stroke-width="1"/>
<rect x="1172" y="149.3" width="110.2" height="102.9" fill="#fff" stroke="#1B1815" stroke-width="3.2"/>
<rect x="1309.3" y="252.4" width="95.9" height="47.8" fill="#fff" stroke="#1B1815" stroke-width="3.2"/>
<path d="M1310.7 276.6 L1343.4 276.6 L1343.4 290.4 L1371.6 290.4 L1371.6 276.6 L1403.8 276.6" fill="none" stroke="#1B1815" stroke-width="1"/>
<rect x="1298.1" y="149.3" width="115.9" height="102.9" fill="#fff" stroke="#1B1815" stroke-width="3.2"/>
<rect x="1457.6" y="252.4" width="96.2" height="47.8" fill="#fff" stroke="#1B1815" stroke-width="3.2"/>
<path d="M1459 276.6 L1491.7 276.6 L1491.7 290.4 L1520 290.4 L1520 276.6 L1552.4 276.6" fill="none" stroke="#1B1815" stroke-width="1"/>
<rect x="1447.5" y="149.3" width="116.1" height="102.9" fill="#fff" stroke="#1B1815" stroke-width="3.2"/>
<rect x="1458.4" y="173.6" width="93.9" height="50.3" fill="#fff" stroke="#1B1815" stroke-width="3.2" rx="25.2"/>
<text x="1470.1" y="208.3" font-size="27.4" textLength="71.3" lengthAdjust="spacingAndGlyphs" fill="#1B1815" stroke="#1B1815" stroke-width="0.9">START</text>
<rect x="1746.7" y="113.5" width="116.9" height="117.5" fill="#fff" stroke="#1B1815" stroke-width="3.2"/>
<rect x="1757" y="350.1" width="115.9" height="47" fill="#fff" stroke="#1B1815" stroke-width="3.2"/>
<path d="M1758.4 373.9 L1800.5 373.9 L1800.5 387.9 L1828.8 387.9 L1828.8 373.9 L1871.5 373.9" fill="none" stroke="#1B1815" stroke-width="1"/>
<rect x="1903.7" y="216.1" width="96" height="47.7" fill="#fff" stroke="#1B1815" stroke-width="3.2"/>
<path d="M1905.1 240.6 L1937.7 240.6 L1937.7 254.2 L1965.5 254.2 L1965.5 240.6 L1998.3 240.6" fill="none" stroke="#1B1815" stroke-width="1"/>
<rect x="1902" y="112.4" width="99.9" height="103.5" fill="#fff" stroke="#1B1815" stroke-width="3.2"/>
<rect x="2316.1" y="218.4" width="116.8" height="48" fill="#fff" stroke="#1B1815" stroke-width="3.2"/>
<path d="M2317.5 243.3 L2360.5 243.3 L2360.5 257 L2388.6 257 L2388.6 243.3 L2431.5 243.3" fill="none" stroke="#1B1815" stroke-width="1"/>
<rect x="2305.6" y="115.1" width="137.3" height="103.1" fill="#fff" stroke="#1B1815" stroke-width="3.2"/>
<rect x="2492.2" y="115.1" width="95.8" height="91.9" fill="#fff" stroke="#1B1815" stroke-width="3.2"/>
<rect x="2501.6" y="247.6" width="77.2" height="46.3" fill="#fff" stroke="#1B1815" stroke-width="3.2"/>
<path d="M2503 270.4 L2526.5 270.4 L2526.5 284.2 L2554.6 284.2 L2554.6 270.4 L2577.4 270.4" fill="none" stroke="#1B1815" stroke-width="1"/>
<rect x="2629.4" y="115.1" width="90.6" height="131.5" fill="#fff" stroke="#1B1815" stroke-width="3.2"/>
<circle cx="2080.4" cy="260.9" r="18.9" fill="#fff" stroke="#1B1815" stroke-width="3"/>
<rect x="2068.7" y="257.7" width="23.4" height="6.5" fill="#1B1815"/>
<rect x="2077.2" y="249.2" width="6.5" height="23.4" fill="#1B1815"/>
<rect x="2070.8" y="297" width="19.2" height="65.6" rx="9.6" fill="#fff" stroke="#1B1815" stroke-width="2.6"/>
<circle cx="2218.7" cy="260.9" r="18.9" fill="#fff" stroke="#1B1815" stroke-width="3"/>
<rect x="2207" y="257.7" width="23.4" height="6.5" fill="#1B1815"/>
<rect x="2209.1" y="297" width="19.2" height="65.6" rx="9.6" fill="#fff" stroke="#1B1815" stroke-width="2.6"/>
<rect x="2113.4" y="388.4" width="32.2" height="20.9" fill="#fff" stroke="#1B1815" stroke-width="2.8"/>
<rect x="2113.4" y="442" width="32.2" height="21.2" fill="#fff" stroke="#1B1815" stroke-width="2.8"/>
<rect x="2145.3" y="367.5" width="40.7" height="110.8" fill="#fff" stroke="#1B1815" stroke-width="2.8" rx="13"/>
<text transform="translate(2173.6,474.5) rotate(-90)" font-size="22.4" textLength="103.5" lengthAdjust="spacingAndGlyphs" fill="#1B1815" stroke="#1B1815" stroke-width="0.4">Предохранитель</text>
<line x1="589.7" y1="655.4" x2="589.7" y2="1462" stroke="#1B1815" stroke-width="6.8"/>
<rect x="485.4" y="668.6" width="101" height="117.8" fill="#fff" stroke="#1B1815" stroke-width="3.2"/>
<path d="M509.5 750 V692 A10 10 0 0 1 519.5 682 H541 A10 10 0 0 1 551 692 V750 H558.2 V760.4 H502.2 V750 Z" fill="#1B1815"/>
<rect x="515.8" y="692.5" width="28.2" height="20" rx="4.5" fill="#fff"/>
<text x="517.6" y="708.6" font-size="14.5" textLength="24.6" lengthAdjust="spacingAndGlyphs" fill="#1B1815" stroke="#1B1815" stroke-width="0.3">FUEL</text>
<path d="M551 701 C560 700 564 708 566 720 C568 735 580 738 581 752 C581.5 762 572 762.5 568 759.5 C562 755 560 745 551 743" fill="none" stroke="#1B1815" stroke-width="2.8"/>
<rect x="577.5" y="796.3" width="9.2" height="179.4" fill="#fff" stroke="#1B1815" stroke-width="2.6"/>
<path d="M504 821.8 H483.15 A20.45 20.45 0 0 0 483.15 862.7 H504 Z" fill="#E2191E" stroke="#1B1815" stroke-width="3"/>
<rect x="503.6" y="818.1" width="5.2" height="48.3" fill="#fff" stroke="#1B1815" stroke-width="2.9"/>
<path d="M509.8 830.9 H536 M509.8 853.7 H536" stroke="#1B1815" stroke-width="3.4" fill="none"/>
<rect x="535.8" y="809.5" width="41.6" height="65.5" fill="#fff" stroke="#1B1815" stroke-width="3.2"/>
<path d="M504 909.4 H483.15 A20.45 20.45 0 0 0 483.15 950.4 H504 Z" fill="#E2191E" stroke="#1B1815" stroke-width="3"/>
<rect x="503.6" y="905.8" width="5.2" height="48.3" fill="#fff" stroke="#1B1815" stroke-width="2.9"/>
<path d="M509.8 918.6 H536 M509.8 941.4 H536" stroke="#1B1815" stroke-width="3.4" fill="none"/>
<rect x="535.8" y="894.5" width="41.6" height="66.4" fill="#fff" stroke="#1B1815" stroke-width="3.2"/>
<rect x="522.8" y="998.4" width="63.6" height="75.5" fill="#fff" stroke="#1B1815" stroke-width="3.2"/>
<circle cx="558.5" cy="1203" r="23.25" fill="#FFE200" stroke="#1B1815" stroke-width="3"/>
<rect x="574.9" y="1186.2" width="12.2" height="33.6" fill="#fff" stroke="#1B1815" stroke-width="2.8"/>
<circle cx="558.5" cy="1356" r="23.25" fill="#FFE200" stroke="#1B1815" stroke-width="3"/>
<rect x="574.9" y="1339.2" width="12.2" height="33.6" fill="#fff" stroke="#1B1815" stroke-width="2.8"/>
<circle cx="558.5" cy="1423" r="23.25" fill="#FFE200" stroke="#1B1815" stroke-width="3"/>
<rect x="574.9" y="1406.2" width="12.2" height="33.6" fill="#fff" stroke="#1B1815" stroke-width="2.8"/>
<line x1="589.7" y1="655.4" x2="589.7" y2="1462" stroke="#1B1815" stroke-width="6.8"/>
<rect x="1571.2" y="877.8" width="47.1" height="174.9" fill="#fff" stroke="#1B1815" stroke-width="3.2"/>
<path d="M1594.4 879.2 L1594.4 951 L1608.6 951 L1608.6 978.3 L1594.4 978.3 L1594.4 1051.3" fill="none" stroke="#1B1815" stroke-width="1"/>
<rect x="1571.2" y="1068.8" width="47.1" height="96.1" fill="#fff" stroke="#1B1815" stroke-width="3.2"/>
<path d="M1594.4 1070.2 L1594.4 1103.3 L1608.6 1103.3 L1608.6 1129.8 L1594.4 1129.8 L1594.4 1163.5" fill="none" stroke="#1B1815" stroke-width="1"/>
<rect x="575.9" y="1535.6" width="104.2" height="95.8" fill="#fff" stroke="#1B1815" stroke-width="3.2"/>
<rect x="680.3" y="1545.6" width="46" height="75.8" fill="#fff" stroke="#1B1815" stroke-width="3.2"/>
<path d="M703.4 1547 L703.4 1569.7 L717 1569.7 L717 1597.3 L703.4 1597.3 L703.4 1620" fill="none" stroke="#1B1815" stroke-width="1"/>
<rect x="844.6" y="1696.2" width="95.9" height="48.2" fill="#fff" stroke="#1B1815" stroke-width="3.2"/>
<path d="M846 1719.7 L878.7 1719.7 L878.7 1706 L906.5 1706 L906.5 1719.7 L939.1 1719.7" fill="none" stroke="#1B1815" stroke-width="1"/>
<rect x="834.4" y="1744.6" width="116.1" height="101.8" fill="#fff" stroke="#1B1815" stroke-width="3.2"/>
<rect x="1024.6" y="1696.2" width="95.6" height="48.2" fill="#fff" stroke="#1B1815" stroke-width="3.2"/>
<path d="M1026 1719.7 L1058.5 1719.7 L1058.5 1706 L1086.3 1706 L1086.3 1719.7 L1118.8 1719.7" fill="none" stroke="#1B1815" stroke-width="1"/>
<rect x="1015.6" y="1744.6" width="115.2" height="101.8" fill="#fff" stroke="#1B1815" stroke-width="3.2"/>
<rect x="1183.9" y="1696.2" width="95.5" height="48.2" fill="#fff" stroke="#1B1815" stroke-width="3.2"/>
<path d="M1185.3 1719.7 L1218 1719.7 L1218 1706 L1245.8 1706 L1245.8 1719.7 L1278 1719.7" fill="none" stroke="#1B1815" stroke-width="1"/>
<rect x="1177.8" y="1744.6" width="109.2" height="101.8" fill="#fff" stroke="#1B1815" stroke-width="3.2"/>
<rect x="1185.4" y="1771.1" width="93.4" height="49.7" fill="#fff" stroke="#1B1815" stroke-width="3.2" rx="25"/>
<text x="1202" y="1804.9" font-size="27.4" textLength="61" lengthAdjust="spacingAndGlyphs" fill="#1B1815" stroke="#1B1815" stroke-width="0.9">HORN</text>
<rect x="1721.6" y="1305.1" width="24.7" height="24.3" fill="#fff" stroke="#1B1815" stroke-width="3.2"/>
<path d="M1723 1318 L1728 1318 L1728 1323.5 L1739.5 1323.5 L1739.5 1318 L1744.9 1318" fill="none" stroke="#1B1815" stroke-width="1"/>
<circle cx="1733.6" cy="1378.3" r="47" fill="#fff" stroke="#1B1815" stroke-width="3"/>
<circle cx="1733.6" cy="1378.3" r="38" fill="none" stroke="#1B1815" stroke-width="2.8"/>
<circle cx="1733.6" cy="1378.3" r="12.7" fill="none" stroke="#1B1815" stroke-width="3"/>
<circle cx="1733.6" cy="1378.3" r="7.6" fill="none" stroke="#1B1815" stroke-width="1.8"/>
<path d="M1782 1378.3 H1804.9 V1445" fill="none" stroke="#1B1815" stroke-width="2.8"/>
<line x1="1768.5" y1="1445.9" x2="1932.3" y2="1445.9" stroke="#1B1815" stroke-width="4"/>
<line x1="1794.5" y1="1447.9" x2="1760" y2="1470.9" stroke="#1B1815" stroke-width="1.6"/>
<line x1="1808.3" y1="1447.9" x2="1773.8" y2="1470.9" stroke="#1B1815" stroke-width="1.6"/>
<line x1="1822.1" y1="1447.9" x2="1787.6" y2="1470.9" stroke="#1B1815" stroke-width="1.6"/>
<line x1="1835.9" y1="1447.9" x2="1801.4" y2="1470.9" stroke="#1B1815" stroke-width="1.6"/>
<line x1="1849.7" y1="1447.9" x2="1815.2" y2="1470.9" stroke="#1B1815" stroke-width="1.6"/>
<line x1="1863.5" y1="1447.9" x2="1829" y2="1470.9" stroke="#1B1815" stroke-width="1.6"/>
<line x1="1877.3" y1="1447.9" x2="1842.8" y2="1470.9" stroke="#1B1815" stroke-width="1.6"/>
<line x1="1891.1" y1="1447.9" x2="1856.6" y2="1470.9" stroke="#1B1815" stroke-width="1.6"/>
<line x1="1904.9" y1="1447.9" x2="1870.4" y2="1470.9" stroke="#1B1815" stroke-width="1.6"/>
<line x1="1918.7" y1="1447.9" x2="1884.2" y2="1470.9" stroke="#1B1815" stroke-width="1.6"/>
<path d="M1836 1392 A7.3 7.3 0 0 1 1850.6 1392 V1406 C1850.6 1410 1857 1410 1857 1416 V1434 A6 6 0 0 1 1851 1440 H1835 A6 6 0 0 1 1829 1434 V1416 C1829 1410 1836 1410 1836 1406 Z" fill="#fff" stroke="#1B1815" stroke-width="2.6"/>
<circle cx="1842.9" cy="1426.3" r="7" fill="#fff" stroke="#1B1815" stroke-width="2.6"/>
<rect x="1892.9" y="1312.6" width="31.7" height="87.1" fill="#fff" stroke="#1B1815" stroke-width="3.2"/>
<path d="M1908 1312 V1322 L1900.5 1331 V1339 M1900.5 1374 V1378 L1908 1387 V1445" fill="none" stroke="#1B1815" stroke-width="2.6"/>
<ellipse cx="1907" cy="1342.6" rx="7.6" ry="5.7" fill="none" stroke="#1B1815" stroke-width="2.3"/>
<ellipse cx="1907" cy="1351.9" rx="7.6" ry="5.7" fill="none" stroke="#1B1815" stroke-width="2.3"/>
<ellipse cx="1907" cy="1361.1" rx="7.6" ry="5.7" fill="none" stroke="#1B1815" stroke-width="2.3"/>
<ellipse cx="1907" cy="1370.4" rx="7.6" ry="5.7" fill="none" stroke="#1B1815" stroke-width="2.3"/>
<rect x="2107.8" y="1479.4" width="144.7" height="45.3" fill="#fff" stroke="#1B1815" stroke-width="3.2"/>
<path d="M2109.2 1502 L2166.7 1502 L2166.7 1488.2 L2194.2 1488.2 L2194.2 1502 L2251.1 1502" fill="none" stroke="#1B1815" stroke-width="1"/>
<rect x="1971.9" y="1616.4" width="24.5" height="28" fill="#fff" stroke="#1B1815" stroke-width="3.2"/>
<path d="M1973.3 1629 L1978.5 1629 L1978.5 1634.5 L1990 1634.5 L1990 1629 L1995 1629" fill="none" stroke="#1B1815" stroke-width="1"/>
<rect x="1958" y="1644.6" width="51.9" height="13.8" fill="#fff" stroke="#1B1815" stroke-width="3.2"/>
<circle cx="1984.4" cy="1711.7" r="61" fill="#fff" stroke="#1B1815" stroke-width="3"/>
<line x1="1984.4" y1="1773" x2="1984.4" y2="1836" stroke="#1B1815" stroke-width="2.8"/>
<line x1="1944.2" y1="1836.2" x2="2024.6" y2="1836.2" stroke="#1B1815" stroke-width="4"/>
<line x1="1957" y1="1838.2" x2="1935" y2="1863.2" stroke="#1B1815" stroke-width="1.6"/>
<line x1="1968.4" y1="1838.2" x2="1946.4" y2="1863.2" stroke="#1B1815" stroke-width="1.6"/>
<line x1="1979.8" y1="1838.2" x2="1957.8" y2="1863.2" stroke="#1B1815" stroke-width="1.6"/>
<line x1="1991.2" y1="1838.2" x2="1969.2" y2="1863.2" stroke="#1B1815" stroke-width="1.6"/>
<line x1="2002.6" y1="1838.2" x2="1980.6" y2="1863.2" stroke="#1B1815" stroke-width="1.6"/>
<line x1="2014" y1="1838.2" x2="1992" y2="1863.2" stroke="#1B1815" stroke-width="1.6"/>
<line x1="2072" y1="1631" x2="2054" y2="1650" stroke="#0A8C3E" stroke-width="12" stroke-linecap="round"/>
<circle cx="2043.3" cy="1661.5" r="9.7" fill="#fff" stroke="#0A8C3E" stroke-width="5"/>
<rect x="2120.9" y="1679.4" width="35.7" height="86.9" fill="#fff" stroke="#1B1815" stroke-width="3.2"/>
<path d="M2158 1714.5 A8 8 0 0 1 2158 1730.5" fill="none" stroke="#1B1815" stroke-width="2.2"/>
<path d="M2137.3 1679 V1686 L2129.5 1694 V1704 M2129.5 1737 V1741 L2137.3 1749 V1851.5 H2260.5" fill="none" stroke="#1B1815" stroke-width="2.6"/>
<ellipse cx="2136" cy="1707.4" rx="7.6" ry="5.4" fill="none" stroke="#1B1815" stroke-width="2.3"/>
<ellipse cx="2136" cy="1716.1" rx="7.6" ry="5.4" fill="none" stroke="#1B1815" stroke-width="2.3"/>
<ellipse cx="2136" cy="1724.9" rx="7.6" ry="5.4" fill="none" stroke="#1B1815" stroke-width="2.3"/>
<ellipse cx="2136" cy="1733.6" rx="7.6" ry="5.4" fill="none" stroke="#1B1815" stroke-width="2.3"/>
<path d="M1956.4 1955.6 H2082.7 L2123.7 1779.6 M2108 1804 L2123.7 1779.6 L2127 1807.6" fill="none" stroke="#1B1815" stroke-width="1"/>
<circle cx="2260.7" cy="1723.2" r="91.5" fill="#fff" stroke="#1B1815" stroke-width="3"/>
<path d="M2215.6 1638 V1718.9 H2252 M2252 1631 V1661 L2255 1666 M2254 1772 V1780 L2260.5 1790 V1897 M2306.2 1642 V1662 L2296 1673 V1681 M2296 1762 V1771 L2306.2 1782 V1802" fill="none" stroke="#1B1815" stroke-width="2.6"/>
<ellipse cx="2264" cy="1670.9" rx="9.2" ry="6" fill="none" stroke="#1B1815" stroke-width="2.3"/>
<ellipse cx="2264" cy="1680.6" rx="9.2" ry="6" fill="none" stroke="#1B1815" stroke-width="2.3"/>
<ellipse cx="2264" cy="1690.3" rx="9.2" ry="6" fill="none" stroke="#1B1815" stroke-width="2.3"/>
<ellipse cx="2264" cy="1700" rx="9.2" ry="6" fill="none" stroke="#1B1815" stroke-width="2.3"/>
<ellipse cx="2264" cy="1709.8" rx="9.2" ry="6" fill="none" stroke="#1B1815" stroke-width="2.3"/>
<ellipse cx="2264" cy="1719.5" rx="9.2" ry="6" fill="none" stroke="#1B1815" stroke-width="2.3"/>
<ellipse cx="2264" cy="1729.2" rx="9.2" ry="6" fill="none" stroke="#1B1815" stroke-width="2.3"/>
<ellipse cx="2264" cy="1739" rx="9.2" ry="6" fill="none" stroke="#1B1815" stroke-width="2.3"/>
<ellipse cx="2264" cy="1748.7" rx="9.2" ry="6" fill="none" stroke="#1B1815" stroke-width="2.3"/>
<ellipse cx="2264" cy="1758.4" rx="9.2" ry="6" fill="none" stroke="#1B1815" stroke-width="2.3"/>
<ellipse cx="2264" cy="1768.1" rx="9.2" ry="6" fill="none" stroke="#1B1815" stroke-width="2.3"/>
<ellipse cx="2305" cy="1685.2" rx="9.2" ry="6.4" fill="none" stroke="#1B1815" stroke-width="2.3"/>
<ellipse cx="2305" cy="1695.6" rx="9.2" ry="6.4" fill="none" stroke="#1B1815" stroke-width="2.3"/>
<ellipse cx="2305" cy="1705.9" rx="9.2" ry="6.4" fill="none" stroke="#1B1815" stroke-width="2.3"/>
<ellipse cx="2305" cy="1716.3" rx="9.2" ry="6.4" fill="none" stroke="#1B1815" stroke-width="2.3"/>
<ellipse cx="2305" cy="1726.7" rx="9.2" ry="6.4" fill="none" stroke="#1B1815" stroke-width="2.3"/>
<ellipse cx="2305" cy="1737.1" rx="9.2" ry="6.4" fill="none" stroke="#1B1815" stroke-width="2.3"/>
<ellipse cx="2305" cy="1747.4" rx="9.2" ry="6.4" fill="none" stroke="#1B1815" stroke-width="2.3"/>
<ellipse cx="2305" cy="1757.8" rx="9.2" ry="6.4" fill="none" stroke="#1B1815" stroke-width="2.3"/>
<line x1="2219.4" y1="1898.6" x2="2300.3" y2="1898.6" stroke="#1B1815" stroke-width="4"/>
<line x1="2232" y1="1900.6" x2="2210" y2="1925.6" stroke="#1B1815" stroke-width="1.6"/>
<line x1="2243.4" y1="1900.6" x2="2221.4" y2="1925.6" stroke="#1B1815" stroke-width="1.6"/>
<line x1="2254.8" y1="1900.6" x2="2232.8" y2="1925.6" stroke="#1B1815" stroke-width="1.6"/>
<line x1="2266.2" y1="1900.6" x2="2244.2" y2="1925.6" stroke="#1B1815" stroke-width="1.6"/>
<line x1="2277.6" y1="1900.6" x2="2255.6" y2="1925.6" stroke="#1B1815" stroke-width="1.6"/>
<line x1="2289" y1="1900.6" x2="2267" y2="1925.6" stroke="#1B1815" stroke-width="1.6"/>
<rect x="2380.4" y="1310.6" width="57.1" height="46.4" fill="#fff" stroke="#1B1815" stroke-width="3.2"/>
<path d="M2381.8 1334 L2395.2 1334 L2395.2 1320.4 L2422.7 1320.4 L2422.7 1334 L2436.1 1334" fill="none" stroke="#1B1815" stroke-width="1"/>
<rect x="2380.1" y="1423.1" width="57.4" height="110.6" fill="#fff" stroke="#1B1815" stroke-width="3.2"/>
<rect x="2484.9" y="1593.2" width="116.1" height="47.1" fill="#fff" stroke="#1B1815" stroke-width="3.2"/>
<path d="M2486.3 1616.5 L2529 1616.5 L2529 1603 L2557 1603 L2557 1616.5 L2599.6 1616.5" fill="none" stroke="#1B1815" stroke-width="1"/>
<rect x="2478.3" y="1640.5" width="127.8" height="109.9" fill="#fff" stroke="#1B1815" stroke-width="3.2"/>
<rect x="2723.3" y="1390.9" width="24.9" height="25.8" fill="#fff" stroke="#1B1815" stroke-width="3.2"/>
<path d="M2724.7 1403 L2730 1403 L2730 1408.5 L2741.5 1408.5 L2741.5 1403 L2746.8 1403" fill="none" stroke="#1B1815" stroke-width="1"/>
<rect x="2725.5" y="1416.9" width="20.7" height="26.7" fill="#fff" stroke="#1B1815" stroke-width="2.8"/>
<rect x="2689.8" y="1444" width="93.5" height="168.9" fill="#fff" stroke="#1B1815" stroke-width="3.2"/>
<path d="M2735.5 1444 V1452.9 M2716.7 1474 V1452.9 H2755.4 V1474 M2716.7 1580 V1600.7 H2690 M2755.4 1580 V1588 L2763.5 1598 V1613" fill="none" stroke="#1B1815" stroke-width="2.6"/>
<ellipse cx="2707" cy="1477.5" rx="9.7" ry="4.4" fill="none" stroke="#1B1815" stroke-width="2.2"/>
<ellipse cx="2707" cy="1484.6" rx="9.7" ry="4.4" fill="none" stroke="#1B1815" stroke-width="2.2"/>
<ellipse cx="2707" cy="1491.7" rx="9.7" ry="4.4" fill="none" stroke="#1B1815" stroke-width="2.2"/>
<ellipse cx="2707" cy="1498.7" rx="9.7" ry="4.4" fill="none" stroke="#1B1815" stroke-width="2.2"/>
<ellipse cx="2707" cy="1505.8" rx="9.7" ry="4.4" fill="none" stroke="#1B1815" stroke-width="2.2"/>
<ellipse cx="2707" cy="1512.9" rx="9.7" ry="4.4" fill="none" stroke="#1B1815" stroke-width="2.2"/>
<ellipse cx="2707" cy="1519.9" rx="9.7" ry="4.4" fill="none" stroke="#1B1815" stroke-width="2.2"/>
<ellipse cx="2707" cy="1527" rx="9.7" ry="4.4" fill="none" stroke="#1B1815" stroke-width="2.2"/>
<ellipse cx="2707" cy="1534.1" rx="9.7" ry="4.4" fill="none" stroke="#1B1815" stroke-width="2.2"/>
<ellipse cx="2707" cy="1541.1" rx="9.7" ry="4.4" fill="none" stroke="#1B1815" stroke-width="2.2"/>
<ellipse cx="2707" cy="1548.2" rx="9.7" ry="4.4" fill="none" stroke="#1B1815" stroke-width="2.2"/>
<ellipse cx="2707" cy="1555.3" rx="9.7" ry="4.4" fill="none" stroke="#1B1815" stroke-width="2.2"/>
<ellipse cx="2707" cy="1562.3" rx="9.7" ry="4.4" fill="none" stroke="#1B1815" stroke-width="2.2"/>
<ellipse cx="2707" cy="1569.4" rx="9.7" ry="4.4" fill="none" stroke="#1B1815" stroke-width="2.2"/>
<ellipse cx="2707" cy="1576.5" rx="9.7" ry="4.4" fill="none" stroke="#1B1815" stroke-width="2.2"/>
<ellipse cx="2765" cy="1477.5" rx="9.7" ry="4.4" fill="none" stroke="#1B1815" stroke-width="2.2"/>
<ellipse cx="2765" cy="1484.6" rx="9.7" ry="4.4" fill="none" stroke="#1B1815" stroke-width="2.2"/>
<ellipse cx="2765" cy="1491.7" rx="9.7" ry="4.4" fill="none" stroke="#1B1815" stroke-width="2.2"/>
<ellipse cx="2765" cy="1498.7" rx="9.7" ry="4.4" fill="none" stroke="#1B1815" stroke-width="2.2"/>
<ellipse cx="2765" cy="1505.8" rx="9.7" ry="4.4" fill="none" stroke="#1B1815" stroke-width="2.2"/>
<ellipse cx="2765" cy="1512.9" rx="9.7" ry="4.4" fill="none" stroke="#1B1815" stroke-width="2.2"/>
<ellipse cx="2765" cy="1519.9" rx="9.7" ry="4.4" fill="none" stroke="#1B1815" stroke-width="2.2"/>
<ellipse cx="2765" cy="1527" rx="9.7" ry="4.4" fill="none" stroke="#1B1815" stroke-width="2.2"/>
<ellipse cx="2765" cy="1534.1" rx="9.7" ry="4.4" fill="none" stroke="#1B1815" stroke-width="2.2"/>
<ellipse cx="2765" cy="1541.1" rx="9.7" ry="4.4" fill="none" stroke="#1B1815" stroke-width="2.2"/>
<ellipse cx="2765" cy="1548.2" rx="9.7" ry="4.4" fill="none" stroke="#1B1815" stroke-width="2.2"/>
<ellipse cx="2765" cy="1555.3" rx="9.7" ry="4.4" fill="none" stroke="#1B1815" stroke-width="2.2"/>
<ellipse cx="2765" cy="1562.3" rx="9.7" ry="4.4" fill="none" stroke="#1B1815" stroke-width="2.2"/>
<ellipse cx="2765" cy="1569.4" rx="9.7" ry="4.4" fill="none" stroke="#1B1815" stroke-width="2.2"/>
<ellipse cx="2765" cy="1576.5" rx="9.7" ry="4.4" fill="none" stroke="#1B1815" stroke-width="2.2"/>
<rect x="2653.4" y="1587.9" width="34.7" height="23.6" fill="#fff" stroke="#1B1815" stroke-width="3.2"/>
<path d="M2668 1589.3 L2668 1594 L2673 1594 L2673 1605 L2668 1605 L2668 1610.1" fill="none" stroke="#1B1815" stroke-width="1"/>
<line x1="2682" y1="1587" x2="2682" y2="1612" stroke="#1B1815" stroke-width="2.6"/>
<path d="M2750.7 1614 H2774.1 V1632.4 H2783 L2762.3 1657.3 L2741.5 1632.4 H2750.7 Z" fill="#1B1815"/>
<path d="M2733.3 1628.3 L2762.3 1658.5 L2791.3 1628.3" fill="none" stroke="#1B1815" stroke-width="1.6"/>
<path d="M2750.7 1729 H2774.1 V1708.4 H2783 L2762.3 1683.5 L2741.5 1708.4 H2750.7 Z" fill="#1B1815"/>
<path d="M2733.3 1712.5 L2762.3 1682.3 L2791.3 1712.5" fill="none" stroke="#1B1815" stroke-width="1.6"/>
<line x1="2722.2" y1="1730.3" x2="2802.9" y2="1730.3" stroke="#1B1815" stroke-width="4"/>
<line x1="2736" y1="1732.3" x2="2714" y2="1757.3" stroke="#1B1815" stroke-width="1.6"/>
<line x1="2747.4" y1="1732.3" x2="2725.4" y2="1757.3" stroke="#1B1815" stroke-width="1.6"/>
<line x1="2758.8" y1="1732.3" x2="2736.8" y2="1757.3" stroke="#1B1815" stroke-width="1.6"/>
<line x1="2770.2" y1="1732.3" x2="2748.2" y2="1757.3" stroke="#1B1815" stroke-width="1.6"/>
<line x1="2781.6" y1="1732.3" x2="2759.6" y2="1757.3" stroke="#1B1815" stroke-width="1.6"/>
<line x1="2793" y1="1732.3" x2="2771" y2="1757.3" stroke="#1B1815" stroke-width="1.6"/>
<text x="2.9" y="57.1" font-size="28.8" textLength="290" lengthAdjust="spacingAndGlyphs" fill="#1B1815" stroke="#1B1815" stroke-width="0.5">Лампа переднего правого</text>
<text x="57.7" y="89.8" font-size="28.8" textLength="235.2" lengthAdjust="spacingAndGlyphs" fill="#1B1815" stroke="#1B1815" stroke-width="0.5">указателя поворотов</text>
<text x="160.8" y="185.2" font-size="28.8" textLength="255.4" lengthAdjust="spacingAndGlyphs" fill="#1B1815" stroke="#1B1815" stroke-width="0.5">Лампа передней фары</text>
<text x="15.6" y="482.2" font-size="28.8" textLength="277.3" lengthAdjust="spacingAndGlyphs" fill="#1B1815" stroke="#1B1815" stroke-width="0.5">Лампа переднего левого</text>
<text x="57.7" y="514.9" font-size="28.8" textLength="235.2" lengthAdjust="spacingAndGlyphs" fill="#1B1815" stroke="#1B1815" stroke-width="0.5">указателя поворотов</text>
<text x="1185.8" y="22.3" font-size="28.8" textLength="79.8" lengthAdjust="spacingAndGlyphs" fill="#1B1815" stroke="#1B1815" stroke-width="0.5">Датчик</text>
<text x="1195.9" y="54.8" font-size="28.8" textLength="60.8" lengthAdjust="spacingAndGlyphs" fill="#1B1815" stroke="#1B1815" stroke-width="0.5">ручки</text>
<text x="1169.4" y="87.8" font-size="28.8" textLength="113.9" lengthAdjust="spacingAndGlyphs" fill="#1B1815" stroke="#1B1815" stroke-width="0.5">переднего</text>
<text x="1181.1" y="120.7" font-size="28.8" textLength="90.9" lengthAdjust="spacingAndGlyphs" fill="#1B1815" stroke="#1B1815" stroke-width="0.5">тормоза</text>
<text x="1316" y="24.3" font-size="28.8" textLength="79.2" lengthAdjust="spacingAndGlyphs" fill="#1B1815" stroke="#1B1815" stroke-width="0.5">Датчик</text>
<text x="1324.8" y="57" font-size="28.8" textLength="61.3" lengthAdjust="spacingAndGlyphs" fill="#1B1815" stroke="#1B1815" stroke-width="0.5">ручки</text>
<text x="1311.1" y="90" font-size="28.8" textLength="88.9" lengthAdjust="spacingAndGlyphs" fill="#1B1815" stroke="#1B1815" stroke-width="0.5">заднего</text>
<text x="1310.1" y="122.9" font-size="28.8" textLength="91.1" lengthAdjust="spacingAndGlyphs" fill="#1B1815" stroke="#1B1815" stroke-width="0.5">тормоза</text>
<text x="1465.9" y="86.8" font-size="28.8" textLength="77.8" lengthAdjust="spacingAndGlyphs" fill="#1B1815" stroke="#1B1815" stroke-width="0.5">Кнопка</text>
<text x="1455.5" y="120.1" font-size="28.8" textLength="98.8" lengthAdjust="spacingAndGlyphs" fill="#1B1815" stroke="#1B1815" stroke-width="0.5">стартера</text>
<text x="1767.7" y="54.2" font-size="28.8" textLength="69.4" lengthAdjust="spacingAndGlyphs" fill="#1B1815" stroke="#1B1815" stroke-width="0.5">Замок</text>
<text x="1742.9" y="87.2" font-size="28.8" textLength="118.4" lengthAdjust="spacingAndGlyphs" fill="#1B1815" stroke="#1B1815" stroke-width="0.5">зажигания</text>
<text x="1927.5" y="50.6" font-size="28.8" textLength="53.7" lengthAdjust="spacingAndGlyphs" fill="#1B1815" stroke="#1B1815" stroke-width="0.5">Реле</text>
<text x="1904.8" y="84.1" font-size="28.8" textLength="99.2" lengthAdjust="spacingAndGlyphs" fill="#1B1815" stroke="#1B1815" stroke-width="0.5">стартёра</text>
<text x="2054.6" y="45.1" font-size="28.8" textLength="180.4" lengthAdjust="spacingAndGlyphs" fill="#1B1815" stroke="#1B1815" stroke-width="0.5">Аккумуляторная</text>
<text x="2100.7" y="78.5" font-size="28.8" textLength="88.4" lengthAdjust="spacingAndGlyphs" fill="#1B1815" stroke="#1B1815" stroke-width="0.5">батарея</text>
<text x="2298.7" y="26.1" font-size="28.8" textLength="154.2" lengthAdjust="spacingAndGlyphs" fill="#1B1815" stroke="#1B1815" stroke-width="0.5">Стабилизатор</text>
<text x="2309.9" y="58.9" font-size="28.8" textLength="132.6" lengthAdjust="spacingAndGlyphs" fill="#1B1815" stroke="#1B1815" stroke-width="0.5">напряжения</text>
<text x="2293.8" y="91.4" font-size="28.8" textLength="164.2" lengthAdjust="spacingAndGlyphs" fill="#1B1815" stroke="#1B1815" stroke-width="0.5">(выпрямитель)</text>
<text x="2499.1" y="32" font-size="28.8" textLength="78.6" lengthAdjust="spacingAndGlyphs" fill="#1B1815" stroke="#1B1815" stroke-width="0.5">Датчик</text>
<text x="2500.4" y="64.4" font-size="28.8" textLength="75" lengthAdjust="spacingAndGlyphs" fill="#1B1815" stroke="#1B1815" stroke-width="0.5">уровня</text>
<text x="2494.4" y="96.9" font-size="28.8" textLength="88" lengthAdjust="spacingAndGlyphs" fill="#1B1815" stroke="#1B1815" stroke-width="0.5">топлива</text>
<text x="2638.8" y="28.7" font-size="28.8" textLength="78.9" lengthAdjust="spacingAndGlyphs" fill="#1B1815" stroke="#1B1815" stroke-width="0.5">Датчик</text>
<text x="2640.6" y="61.2" font-size="28.8" textLength="74.8" lengthAdjust="spacingAndGlyphs" fill="#1B1815" stroke="#1B1815" stroke-width="0.5">уровня</text>
<text x="2644.8" y="93.6" font-size="28.8" textLength="67.4" lengthAdjust="spacingAndGlyphs" fill="#1B1815" stroke="#1B1815" stroke-width="0.5">масла</text>
<text x="172.6" y="718" font-size="28.8" textLength="294.1" lengthAdjust="spacingAndGlyphs" fill="#1B1815" stroke="#1B1815" stroke-width="0.5">Указатель уровня топлива</text>
<text x="177.8" y="750.6" font-size="28.8" textLength="288.9" lengthAdjust="spacingAndGlyphs" fill="#1B1815" stroke="#1B1815" stroke-width="0.5">на панели приборов (Fuel)</text>
<text x="231.1" y="837.7" font-size="28.8" textLength="218.5" lengthAdjust="spacingAndGlyphs" fill="#1B1815" stroke="#1B1815" stroke-width="0.5">Контрольная лампа</text>
<text x="247.8" y="870.5" font-size="28.8" textLength="201.8" lengthAdjust="spacingAndGlyphs" fill="#1B1815" stroke="#1B1815" stroke-width="0.5">уровня масла (Oil)</text>
<text x="177.8" y="923.4" font-size="28.8" textLength="271.8" lengthAdjust="spacingAndGlyphs" fill="#1B1815" stroke="#1B1815" stroke-width="0.5">Индикатор  превышения</text>
<text x="123.5" y="956.2" font-size="28.8" textLength="326.1" lengthAdjust="spacingAndGlyphs" fill="#1B1815" stroke="#1B1815" stroke-width="0.5">допустимой скорости (Speed)</text>
<text x="275.1" y="1029.5" font-size="28.8" textLength="226.2" lengthAdjust="spacingAndGlyphs" fill="#1B1815" stroke="#1B1815" stroke-width="0.5">Датчик превышения</text>
<text x="264" y="1062.1" font-size="28.8" textLength="237.3" lengthAdjust="spacingAndGlyphs" fill="#1B1815" stroke="#1B1815" stroke-width="0.5">допустимой скорости</text>
<text x="449.3" y="1177.4" font-size="28.8" textLength="71.6" lengthAdjust="spacingAndGlyphs" fill="#1B1815" stroke="#1B1815" stroke-width="0.5">Лампа</text>
<text x="408.1" y="1210.4" font-size="28.8" textLength="112.8" lengthAdjust="spacingAndGlyphs" fill="#1B1815" stroke="#1B1815" stroke-width="0.5">указателя</text>
<text x="406.7" y="1243.2" font-size="28.8" textLength="114.2" lengthAdjust="spacingAndGlyphs" fill="#1B1815" stroke="#1B1815" stroke-width="0.5">поворотов</text>
<text x="441.7" y="1345.5" font-size="28.8" textLength="76.9" lengthAdjust="spacingAndGlyphs" fill="#1B1815" stroke="#1B1815" stroke-width="0.5">Лампы</text>
<text x="405.6" y="1378.3" font-size="28.8" textLength="113" lengthAdjust="spacingAndGlyphs" fill="#1B1815" stroke="#1B1815" stroke-width="0.5">подсветки</text>
<text x="441.3" y="1410.9" font-size="28.8" textLength="77.3" lengthAdjust="spacingAndGlyphs" fill="#1B1815" stroke="#1B1815" stroke-width="0.5">панели</text>
<text x="415.6" y="1443.7" font-size="28.8" textLength="103" lengthAdjust="spacingAndGlyphs" fill="#1B1815" stroke="#1B1815" stroke-width="0.5">приборов</text>
<text x="605.4" y="1673.8" font-size="28.8" textLength="54.1" lengthAdjust="spacingAndGlyphs" fill="#1B1815" stroke="#1B1815" stroke-width="0.5">Реле</text>
<text x="575.8" y="1706.7" font-size="28.8" textLength="113.3" lengthAdjust="spacingAndGlyphs" fill="#1B1815" stroke="#1B1815" stroke-width="0.5">указателя</text>
<text x="575.2" y="1739.3" font-size="28.8" textLength="114.8" lengthAdjust="spacingAndGlyphs" fill="#1B1815" stroke="#1B1815" stroke-width="0.5">поворотов</text>
<text x="800.8" y="1878.3" font-size="28.8" textLength="174.6" lengthAdjust="spacingAndGlyphs" fill="#1B1815" stroke="#1B1815" stroke-width="0.5">Переключатель</text>
<text x="832" y="1910.9" font-size="28.8" textLength="112.3" lengthAdjust="spacingAndGlyphs" fill="#1B1815" stroke="#1B1815" stroke-width="0.5">указателя</text>
<text x="830.5" y="1943.8" font-size="28.8" textLength="114.7" lengthAdjust="spacingAndGlyphs" fill="#1B1815" stroke="#1B1815" stroke-width="0.5">поворотов</text>
<text x="991.1" y="1878.3" font-size="28.8" textLength="174.6" lengthAdjust="spacingAndGlyphs" fill="#1B1815" stroke="#1B1815" stroke-width="0.5">Переключатель</text>
<text x="1025.3" y="1910.9" font-size="28.8" textLength="106.3" lengthAdjust="spacingAndGlyphs" fill="#1B1815" stroke="#1B1815" stroke-width="0.5">ближнего</text>
<text x="1017.1" y="1943.8" font-size="28.8" textLength="123" lengthAdjust="spacingAndGlyphs" fill="#1B1815" stroke="#1B1815" stroke-width="0.5">и дальнего</text>
<text x="1012.3" y="1976.4" font-size="28.8" textLength="132.9" lengthAdjust="spacingAndGlyphs" fill="#1B1815" stroke="#1B1815" stroke-width="0.5">света фары</text>
<text x="1196.6" y="1878.3" font-size="28.8" textLength="77.6" lengthAdjust="spacingAndGlyphs" fill="#1B1815" stroke="#1B1815" stroke-width="0.5">Кнопка</text>
<text x="1179.3" y="1910.9" font-size="28.8" textLength="111.8" lengthAdjust="spacingAndGlyphs" fill="#1B1815" stroke="#1B1815" stroke-width="0.5">звукового</text>
<text x="1191.4" y="1943.8" font-size="28.8" textLength="87.6" lengthAdjust="spacingAndGlyphs" fill="#1B1815" stroke="#1B1815" stroke-width="0.5">сигнала</text>
<text x="1640.2" y="1465.6" font-size="28.8" textLength="102.5" lengthAdjust="spacingAndGlyphs" fill="#1B1815" stroke="#1B1815" stroke-width="0.5">Звуковой</text>
<text x="1668.6" y="1498.4" font-size="28.8" textLength="74.1" lengthAdjust="spacingAndGlyphs" fill="#1B1815" stroke="#1B1815" stroke-width="0.5">сигнал</text>
<text x="1772.1" y="1790.4" font-size="28.8" textLength="156" lengthAdjust="spacingAndGlyphs" fill="#1B1815" stroke="#1B1815" stroke-width="0.5">Электромотор</text>
<text x="1830.3" y="1822.5" font-size="28.8" textLength="97.8" lengthAdjust="spacingAndGlyphs" fill="#1B1815" stroke="#1B1815" stroke-width="0.5">стартёра</text>
<text x="1957.3" y="1943.1" font-size="28.8" textLength="112" lengthAdjust="spacingAndGlyphs" fill="#1B1815" stroke="#1B1815" stroke-width="0.5">Генератор</text>
<text x="1957.3" y="1975.1" font-size="28.8" textLength="117.4" lengthAdjust="spacingAndGlyphs" fill="#1B1815" stroke="#1B1815" stroke-width="0.5">импульсов</text>
<text x="2277.8" y="1846.7" font-size="28.8" textLength="110.6" lengthAdjust="spacingAndGlyphs" fill="#1B1815" stroke="#1B1815" stroke-width="0.5">Генератор</text>
<text x="2348.5" y="1567.4" font-size="28.8" textLength="103.1" lengthAdjust="spacingAndGlyphs" fill="#1B1815" stroke="#1B1815" stroke-width="0.5">Пусковой</text>
<text x="2331.7" y="1599.8" font-size="28.8" textLength="135.9" lengthAdjust="spacingAndGlyphs" fill="#1B1815" stroke="#1B1815" stroke-width="0.5">обогатитель</text>
<text x="2470.9" y="1788.3" font-size="28.8" textLength="133.6" lengthAdjust="spacingAndGlyphs" fill="#1B1815" stroke="#1B1815" stroke-width="0.5">Коммутатор</text>
<text x="2510.8" y="1821.5" font-size="28.8" textLength="52.2" lengthAdjust="spacingAndGlyphs" fill="#1B1815" stroke="#1B1815" stroke-width="0.5">(CDI)</text>
<text x="2811.3" y="1499.8" font-size="28.8" textLength="93.9" lengthAdjust="spacingAndGlyphs" fill="#1B1815" stroke="#1B1815" stroke-width="0.5">Катушка</text>
<text x="2811.3" y="1533" font-size="28.8" textLength="117.4" lengthAdjust="spacingAndGlyphs" fill="#1B1815" stroke="#1B1815" stroke-width="0.5">зажигания</text>
<text x="2803.2" y="1667" font-size="28.8" textLength="129.1" lengthAdjust="spacingAndGlyphs" fill="#1B1815" stroke="#1B1815" stroke-width="0.5">Наконечник</text>
<text x="2803.2" y="1700.1" font-size="28.8" textLength="187.7" lengthAdjust="spacingAndGlyphs" fill="#1B1815" stroke="#1B1815" stroke-width="0.5">свечи зажигания</text>
<text x="3009.9" y="806" font-size="28.8" textLength="167.4" lengthAdjust="spacingAndGlyphs" fill="#1B1815" stroke="#1B1815" stroke-width="0.5">Лампа заднего</text>
<text x="3009.9" y="839.3" font-size="28.8" textLength="207.1" lengthAdjust="spacingAndGlyphs" fill="#1B1815" stroke="#1B1815" stroke-width="0.5">правого указателя</text>
<text x="3009.9" y="872" font-size="28.8" textLength="114.4" lengthAdjust="spacingAndGlyphs" fill="#1B1815" stroke="#1B1815" stroke-width="0.5">поворотов</text>
<text x="3068.1" y="1019.1" font-size="28.8" textLength="71" lengthAdjust="spacingAndGlyphs" fill="#1B1815" stroke="#1B1815" stroke-width="0.5">Лампа</text>
<text x="3068.1" y="1052.5" font-size="28.8" textLength="292.7" lengthAdjust="spacingAndGlyphs" fill="#1B1815" stroke="#1B1815" stroke-width="0.5">стоп-сигнала/габаритного</text>
<text x="3068.1" y="1085.1" font-size="28.8" textLength="145.2" lengthAdjust="spacingAndGlyphs" fill="#1B1815" stroke="#1B1815" stroke-width="0.5">заднего огня</text>
<text x="3011.4" y="1229.7" font-size="28.8" textLength="167.4" lengthAdjust="spacingAndGlyphs" fill="#1B1815" stroke="#1B1815" stroke-width="0.5">Лампа заднего</text>
<text x="3011.4" y="1263.1" font-size="28.8" textLength="195.6" lengthAdjust="spacingAndGlyphs" fill="#1B1815" stroke="#1B1815" stroke-width="0.5">левого указателя</text>
<text x="3011.4" y="1295.7" font-size="28.8" textLength="114" lengthAdjust="spacingAndGlyphs" fill="#1B1815" stroke="#1B1815" stroke-width="0.5">поворотов</text>
</g>
</svg></body></html>
